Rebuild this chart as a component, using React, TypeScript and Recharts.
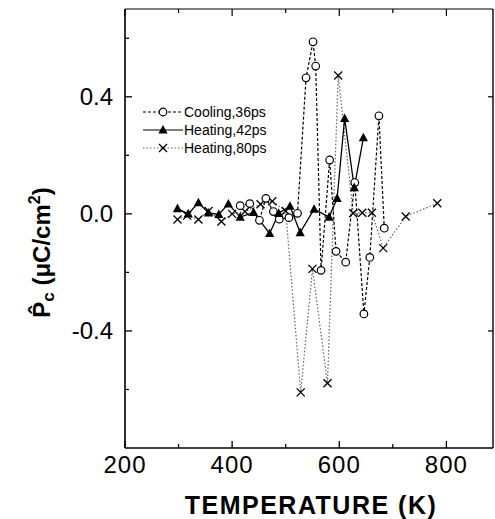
import React from "react";
import { LineChart, Line, XAxis, YAxis, Legend } from "recharts";

// values
const seriesNames = ["Cooling,36ps", "Heating,42ps", "Heating,80ps"];

const coolingT = [415, 433, 451, 463, 477, 488, 506, 522, 538, 551, 556, 566, 582, 594, 612, 629, 646, 657, 674, 684];
const coolingP = [0.028, 0.035, -0.022, 0.053, 0.008, -0.018, -0.013, 0.002, 0.465, 0.588, 0.505, -0.193, 0.184, -0.128, -0.165, 0.107, -0.342, -0.149, 0.335, -0.049];

const heat42T = [298, 318, 337, 356, 375, 393, 415, 440, 470, 487, 508, 527, 553, 581, 596, 610, 628, 645];
const heat42P = [0.018, 0.0, 0.038, 0.003, -0.002, 0.034, -0.011, 0.005, -0.067, 0.002, 0.026, -0.064, 0.016, -0.011, 0.053, 0.326, 0.09, 0.26];

const heat80T = [298, 316, 337, 356, 380, 400, 424, 453, 475, 500, 528, 550, 578, 598, 626, 643, 661, 682, 724, 783];
const heat80P = [-0.019, -0.006, -0.019, 0.01, -0.026, 0.0, 0.008, 0.033, 0.043, 0.01, -0.61, -0.188, -0.579, 0.473, 0.002, 0.004, 0.004, -0.117, -0.009, 0.036];

const xTicks = [200, 300, 400, 500, 600, 700, 800];
const xLabelled = [200, 400, 600, 800];
const yTicks = [-0.6, -0.4, -0.2, 0, 0.2, 0.4, 0.6];
const yLabelled = [-0.4, 0, 0.4];
const rightTicks = [-0.4, 0, 0.4];

const FONT = "'Liberation Sans', Arial, Helvetica, sans-serif";

const toPoints = (ts: number[], ps: number[]) => ts.map((t, i) => ({ t, p: ps[i] }));
const cooling = toPoints(coolingT, coolingP);
const heat42 = toPoints(heat42T, heat42P);
const heat80 = toPoints(heat80T, heat80P);

const has = (list: number[], v: number) => list.some((l) => Math.abs(l - v) < 1e-6);

// markers
const circleMark = (cx: number, cy: number, key?: any) => (
  <circle key={key} cx={cx} cy={cy} r={3.8} fill="#fff" stroke="#000" strokeWidth={1.2} />
);
const triMark = (cx: number, cy: number, key?: any) => (
  <polygon key={key} points={`${cx},${cy - 5} ${cx - 4.6},${cy + 3.6} ${cx + 4.6},${cy + 3.6}`} fill="#000" />
);
const crossMark = (cx: number, cy: number, key?: any) => (
  <g key={key} stroke="#000" strokeWidth={1.3}>
    <line x1={cx - 4} y1={cy - 4} x2={cx + 4} y2={cy + 4} />
    <line x1={cx - 4} y1={cy + 4} x2={cx + 4} y2={cy - 4} />
  </g>
);

const dotWith = (mark: (cx: number, cy: number, key?: any) => React.ReactElement) => (props: any) => {
  const { cx, cy, index } = props;
  if (cx == null || cy == null) return <g key={index} />;
  return mark(cx, cy, index);
};

// ticks point inwards
const BottomTick = (props: any) => {
  const { x, y, payload } = props;
  const major = has(xLabelled, payload.value);
  return (
    <g>
      <line x1={x} y1={y} x2={x} y2={y - (major ? 7 : 4)} stroke="#000" strokeWidth={1.3} />
      {major && (
        <text x={x} y={y + 25} textAnchor="middle" fontFamily={FONT} fontSize={24} letterSpacing={1} fill="#000">
          {payload.value}
        </text>
      )}
    </g>
  );
};

const TopTick = (props: any) => {
  const { x, y, payload } = props;
  const major = has(xLabelled, payload.value);
  return <line x1={x} y1={y} x2={x} y2={y + (major ? 7 : 4)} stroke="#000" strokeWidth={1.2} />;
};

const LeftTick = (props: any) => {
  const { x, y, payload } = props;
  const major = has(yLabelled, payload.value);
  return (
    <g>
      <line x1={x} y1={y} x2={x + (major ? 7 : 4)} y2={y} stroke="#000" strokeWidth={1.3} />
      {major && (
        <text x={x - 12} y={y + 8} textAnchor="end" fontFamily={FONT} fontSize={24} fill="#000">
          {payload.value.toFixed(1)}
        </text>
      )}
    </g>
  );
};

const RightTick = (props: any) => {
  const { x, y } = props;
  return <line x1={x} y1={y} x2={x - 5} y2={y} stroke="#000" strokeWidth={1.2} />;
};

const xLabel = (props: any) => {
  const { x, y, width } = props.viewBox;
  return (
    <text x={x + width / 2 + 2} y={y + 66} textAnchor="middle" fontFamily={FONT} fontWeight="bold" fontSize={25} letterSpacing={1.5} fill="#000">
      TEMPERATURE (K)
    </text>
  );
};

const yLabel = (props: any) => {
  const { x, y, height } = props.viewBox;
  return (
    <text transform={`translate(${x - 74},${y + height / 2 + 24}) rotate(-90)`} textAnchor="middle" fontFamily={FONT} fontWeight="bold" fontSize={24} fill="#000">
      <tspan>{"P\u0302"}</tspan>
      <tspan fontSize={17} dy={4}>c</tspan>
      <tspan dy={-4}>{" (\u03bcC/cm"}</tspan>
      <tspan fontSize={16} dy={-10}>2</tspan>
      <tspan dy={10}>)</tspan>
    </text>
  );
};

const legendStyles = [
  { dash: "3 2", color: "#000", mark: circleMark },
  { dash: undefined, color: "#000", mark: triMark },
  { dash: "1.5 2", color: "#666", mark: crossMark },
];

const renderLegend = () => (
  <div style={{ fontFamily: FONT, fontSize: 14, color: "#000" }}>
    {seriesNames.map((name, i) => (
      <div key={name} style={{ display: "flex", alignItems: "center", height: 18 }}>
        <svg width={40} height={14} style={{ display: "block" }}>
          <line x1={0} y1={7} x2={40} y2={7} stroke={legendStyles[i].color} strokeWidth={1.2} strokeDasharray={legendStyles[i].dash} />
          {legendStyles[i].mark(20, 7)}
        </svg>
        <span style={{ marginLeft: 1 }}>{name}</span>
      </div>
    ))}
  </div>
);

const axisCommon = {
  type: "number" as const,
  interval: 0 as const,
  allowDataOverflow: true,
  tickSize: 0,
  tickMargin: 0,
  tickLine: false,
};

export default function App() {
  return (
    <div style={{ width: 495, height: 519, background: "#fff" }}>
      <style>{"body{margin:0}"}</style>
      <LineChart width={495} height={519} margin={{ top: 8, right: 1, bottom: 70, left: 124 }}>
        <XAxis
          {...axisCommon}
          dataKey="t"
          domain={[200, 887]}
          ticks={xTicks}
          height={1}
          axisLine={{ stroke: "#000", strokeWidth: 1.6 }}
          tick={<BottomTick />}
          label={xLabel}
        />
        <XAxis
          {...axisCommon}
          xAxisId="top"
          orientation="top"
          dataKey="t"
          domain={[200, 887]}
          ticks={xTicks}
          height={1}
          axisLine={{ stroke: "#000", strokeWidth: 1.2 }}
          tick={<TopTick />}
        />
        <YAxis
          {...axisCommon}
          dataKey="p"
          domain={[-0.8, 0.7]}
          ticks={yTicks}
          width={1}
          axisLine={{ stroke: "#000", strokeWidth: 1.6 }}
          tick={<LeftTick />}
          label={yLabel}
        />
        <YAxis
          {...axisCommon}
          yAxisId="right"
          orientation="right"
          dataKey="p"
          domain={[-0.8, 0.7]}
          ticks={rightTicks}
          width={1}
          axisLine={{ stroke: "#000", strokeWidth: 1.4 }}
          tick={<RightTick />}
        />
        <Legend
          layout="horizontal"
          verticalAlign="middle"
          align="center"
          content={renderLegend}
          wrapperStyle={{ left: 143, top: 103, width: "auto", height: "auto" }}
        />
        <Line
          data={heat80}
          dataKey="p"
          name={seriesNames[2]}
          stroke="#666"
          strokeWidth={1.2}
          strokeDasharray="1.5 2"
          dot={dotWith(crossMark)}
          activeDot={false}
          isAnimationActive={false}
        />
        <Line
          data={cooling}
          dataKey="p"
          name={seriesNames[0]}
          stroke="#000"
          strokeWidth={1.2}
          strokeDasharray="3 2"
          dot={dotWith(circleMark)}
          activeDot={false}
          isAnimationActive={false}
        />
        <Line
          data={heat42}
          dataKey="p"
          name={seriesNames[1]}
          stroke="#000"
          strokeWidth={1.3}
          dot={dotWith(triMark)}
          activeDot={false}
          isAnimationActive={false}
        />
      </LineChart>
    </div>
  );
}
